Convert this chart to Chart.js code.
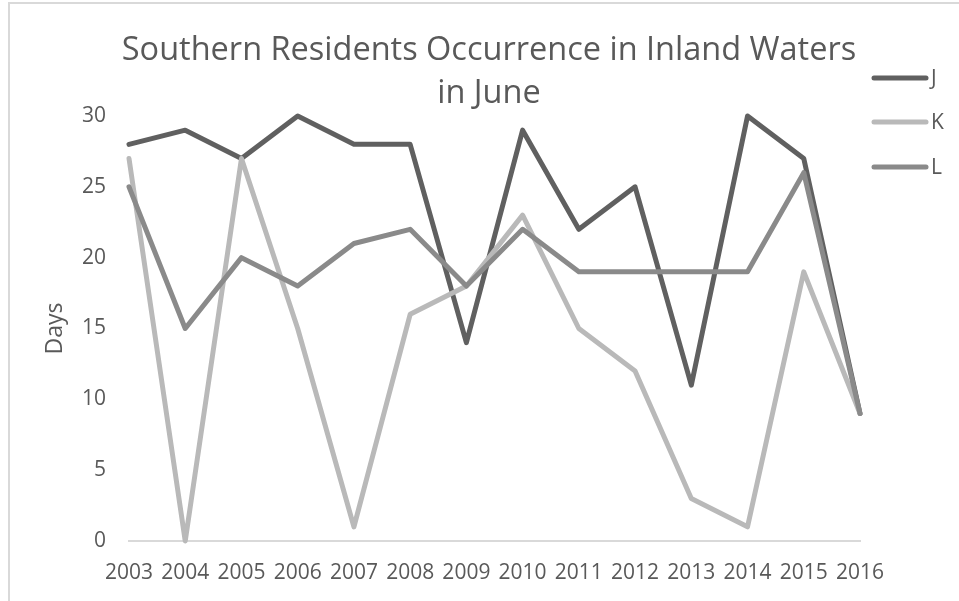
<!DOCTYPE html>
<html>
<head>
<meta charset="utf-8">
<script src="https://cdn.jsdelivr.net/npm/chart.js@4/dist/chart.umd.min.js"></script>
<style>
	html, body { margin:0; padding:0; background:#fff; }
	#wrap { position:relative; width:959px; height:601px; overflow:hidden; }
	#frame { position:absolute; left:8px; top:2px; width:1000px; height:700px; border-left:2px solid #d9d9d9; border-top:2px solid #d9d9d9; }
	canvas { position:absolute; left:0; top:0; }
</style>
</head>
<body>
<div id="wrap">
	<div id="frame"></div>
	<canvas id="chart" width="959" height="601"></canvas>
</div>
<script>
	// data
	const years = ['2003','2004','2005','2006','2007','2008','2009','2010','2011','2012','2013','2014','2015','2016'];
	const podJ = [28, 29, 27, 30, 28, 28, 14, 29, 22, 25, 11, 30, 27, 9];
	const podK = [27, 0, 27, 15, 1, 16, 18, 23, 15, 12, 3, 1, 19, 9];
	const podL = [25, 15, 20, 18, 21, 22, 18, 22, 19, 19, 19, 19, 26, 9];
	const titleLines = ['Southern Residents Occurrence in Inland Waters', 'in June'];
	const yTitle = 'Days';

	const FONT = '"Open Sans", sans-serif';
	const TEXT = '#595959';

	// title + legend drawn by hand to sit where the original has them
	const decor = {
		id: 'decor',
		afterDraw(chart){
			const ctx = chart.ctx;
			ctx.save();
			ctx.fillStyle = TEXT;
			ctx.font = '32.5px ' + FONT;
			ctx.textAlign = 'center';
			ctx.textBaseline = 'alphabetic';
			ctx.fillText(titleLines[0], 489, 60);
			ctx.fillText(titleLines[1], 489, 103);

			const rows = [78, 122, 167];
			ctx.font = '21px ' + FONT;
			ctx.textAlign = 'left';
			ctx.textBaseline = 'middle';
			chart.data.datasets.forEach((ds, i)=>{
				ctx.strokeStyle = ds.borderColor;
				ctx.lineWidth = ds.borderWidth;
				ctx.lineCap = 'round';
				ctx.beginPath();
				ctx.moveTo(874, rows[i]);
				ctx.lineTo(926, rows[i]);
				ctx.stroke();
				ctx.fillText(ds.label, 931, rows[i] + 1);
			});
			ctx.restore();
		}
	};

	function series(label, values, color, order){
		return {
			label: label,
			data: values,
			borderColor: color,
			backgroundColor: color,
			borderWidth: 5,
			borderJoinStyle: 'round',
			borderCapStyle: 'round',
			pointRadius: 0,
			tension: 0,
			clip: false,
			order: order
		};
	}

	new Chart(document.getElementById('chart').getContext('2d'), {
		type: 'line',
		data: {
			labels: years,
			datasets: [
				series('J', podJ, '#606060', 3),
				series('K', podK, '#b9b9b9', 2),
				series('L', podL, '#8a8a8a', 1)
			]
		},
		options: {
			responsive: false,
			animation: false,
			events: [],
			layout: { padding: { left: 0, top: 116, right: 99, bottom: 0 } },
			plugins: { legend: { display: false }, title: { display: false }, tooltip: { enabled: false } },
			scales: {
				x: {
					offset: false,
					grid: { display: false, drawTicks: false },
					border: { display: true, color: '#d9d9d9', width: 2 },
					ticks: { color: TEXT, font: { family: FONT, size: 21 }, padding: 19, maxRotation: 0, autoSkip: false },
					afterFit(s){ s.height = 60; }
				},
				y: {
					min: 0,
					max: 30,
					grid: { display: false, drawTicks: false },
					border: { display: false },
					ticks: { stepSize: 5, color: TEXT, font: { family: FONT, size: 21 }, padding: 23 },
					title: { display: true, text: yTitle, color: TEXT, font: { family: FONT, size: 23 }, padding: { top: 42, bottom: 0 } },
					afterFit(s){ s.width = 129; }
				}
			}
		},
		plugins: [decor]
	});
</script>
</body>
</html>
